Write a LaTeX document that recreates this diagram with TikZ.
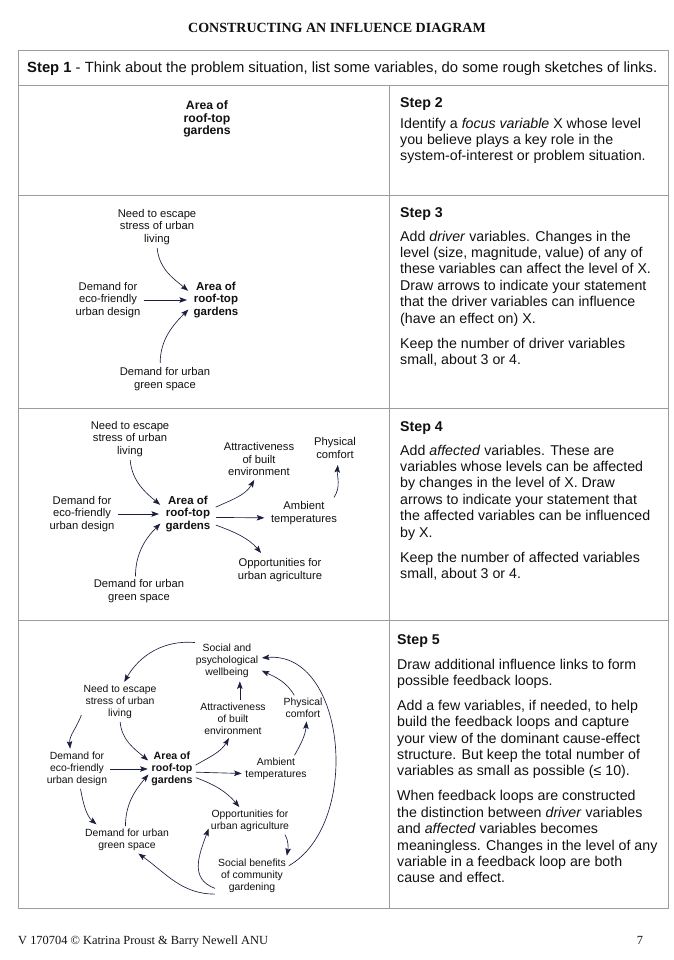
\documentclass[tikz,border=0pt]{standalone}
\usepackage{fontspec}
\setmainfont{Liberation Serif}
\newfontfamily\arial{Liberation Sans}
\usetikzlibrary{arrows.meta}

\definecolor{ink}{HTML}{111111}
\definecolor{linkblue}{HTML}{1A1F40}
\definecolor{rulegray}{HTML}{9C9C9C}

\begin{document}
\begin{tikzpicture}[x=1pt,y=1pt,
    var/.style={font=\arial\fontsize{11.2}{12.5}\selectfont, align=center, inner sep=1.5pt, text=ink},
    varsm/.style={font=\arial\fontsize{10.4}{11.8}\selectfont, align=center, inner sep=1.5pt, text=ink},
    focus/.style={var, font=\arial\bfseries\fontsize{11.5}{12.5}\selectfont},
    focussm/.style={varsm, font=\arial\bfseries\fontsize{10.6}{11.8}\selectfont},
    link/.style={draw=linkblue, line width=0.65pt, -{Stealth[length=7.5pt,width=5.5pt,inset=1.5pt]},
      shorten >=2pt, shorten <=1.5pt},
    steptext/.style={font=\arial\fontsize{14.2}{16.4}\selectfont, align=left, anchor=north west,
      inner sep=0pt, text=ink},
    rule/.style={draw=rulegray, line width=0.8pt}]
  \fill[white] (0,0) rectangle (673,-960);
  \useasboundingbox (0,0) rectangle (673,-960);

  % title, frame and footer
  \node[font=\bfseries\fontsize{14}{16}\selectfont, anchor=base, text=ink] (title) at (337,-32.5)
    {CONSTRUCTING AN INFLUENCE DIAGRAM};
  \draw[rule] (18,-50) rectangle (668,-908);
  \foreach \y in {85,195,408,620} {
    \draw[rule] (18,-\y) -- (668,-\y);
  }
  \draw[rule] (389,-85) -- (389,-908);
  \node[font=\fontsize{12.4}{14}\selectfont, anchor=base west, inner sep=0pt, text=ink] (credit) at (18,-944.5)
    {V 170704 © Katrina Proust \& Barry Newell ANU};
  \node[font=\fontsize{12.4}{14}\selectfont, anchor=base, inner sep=0pt, text=ink] (page) at (640,-944.5) {7};

  % step texts
  \node[font=\arial\fontsize{14.8}{16.4}\selectfont, anchor=base west, inner sep=0pt, text=ink] (step1) at (27,-73)
    {\textbf{Step 1} - Think about the problem situation, list some variables, do some rough sketches of links.};
  \node[steptext] (step2) at (400,-97) {\textbf{Step 2}\\[4.5pt]
    Identify a \textit{focus variable} X whose level\\
    you believe plays a key role in the\\
    system-of-interest or problem situation.};
  \node[steptext] (step3) at (400,-207) {\textbf{Step 3}\\[7.6pt]
    Add \textit{driver} variables. Changes in the\\
    level (size, magnitude, value) of any of\\
    these variables can affect the level of X.\\
    Draw arrows to indicate your statement\\
    that the driver variables can influence\\
    (have an effect on) X.\\[8.5pt]
    Keep the number of driver variables\\
    small, about 3 or 4.};
  \node[steptext] (step4) at (400,-421) {\textbf{Step 4}\\[7.6pt]
    Add \textit{affected} variables. These are\\
    variables whose levels can be affected\\
    by changes in the level of X. Draw\\
    arrows to indicate your statement that\\
    the affected variables can be influenced\\
    by X.\\[8.5pt]
    Keep the number of affected variables\\
    small, about 3 or 4.};
  \node[steptext] (step5) at (397,-634) {\textbf{Step 5}\\[8.5pt]
    Draw additional influence links to form\\
    possible feedback loops.\\[8.5pt]
    Add a few variables, if needed, to help\\
    build the feedback loops and capture\\
    your view of the dominant cause-effect\\
    structure. But keep the total number of\\
    variables as small as possible (≤ 10).\\[8.5pt]
    When feedback loops are constructed\\
    the distinction between \textit{driver} variables\\
    and \textit{affected} variables becomes\\
    meaningless. Changes in the level of any\\
    variable in a feedback loop are both\\
    cause and effect.};

  % step 2
  \node[focus, font=\arial\bfseries\fontsize{12.2}{12.2}\selectfont] (area2) at (207,-119) {Area of\\roof-top\\gardens};

  % step 3
  \node[var] (need3) at (157,-227) {Need to escape\\stress of urban\\living};
  \node[focus] (area3) at (216,-300) {Area of\\roof-top\\gardens};
  \node[var] (eco3) at (108,-300) {Demand for\\eco-friendly\\urban design};
  \node[var] (green3) at (165,-379) {Demand for urban\\green space};
  \draw[link, shorten >=5pt] (need3.south) to[out=-85,in=140] (area3.166);
  \draw[link, shorten >=5pt] (eco3.east) -- (area3.west);
  \draw[link, shorten >=5pt, shorten <=3pt] (green3.110) to[out=90,in=-135] (area3.194);

  % step 4
  \node[var] (need4) at (130,-439) {Need to escape\\stress of urban\\living};
  \node[focus] (area4) at (188,-514) {Area of\\roof-top\\gardens};
  \node[var] (eco4) at (82,-514) {Demand for\\eco-friendly\\urban design};
  \node[var] (green4) at (139,-591) {Demand for urban\\green space};
  \node[var] (attr4) at (259,-459) {Attractiveness\\of built\\environment};
  \node[var] (phys4) at (335,-448) {Physical\\comfort};
  \node[var] (amb4) at (304,-513) {Ambient\\temperatures};
  \node[var] (opp4) at (280,-570) {Opportunities for\\urban agriculture};
  \draw[link, shorten >=5pt] (need4.south) to[out=-85,in=140] (area4.166);
  \draw[link, shorten >=5pt] (eco4.east) -- (area4.west);
  \draw[link, shorten >=5pt] (green4.105) to[out=90,in=-135] (area4.194);
  \draw[link, shorten <=4pt, shorten >=3pt] (area4.12) to[out=25,in=-120] (attr4.-100);
  \draw[link, shorten <=4pt, shorten >=5pt] (area4.-8) -- (amb4.188);
  \draw[link, shorten <=4pt, shorten >=5pt] (area4.-22) to[out=-20,in=130] (opp4.140);
  \draw[link, shorten <=3pt, shorten >=5pt] (amb4.25) to[out=55,in=-95] (phys4.-75);

  % step 5
  \node[varsm] (social5) at (227,-661) {Social and\\psychological\\wellbeing};
  \node[varsm] (need5) at (120,-702) {Need to escape\\stress of urban\\living};
  \node[varsm] (attr5) at (233,-719) {Attractiveness\\of built\\environment};
  \node[varsm] (phys5) at (303,-708) {Physical\\comfort};
  \node[varsm] (eco5) at (77,-769) {Demand for\\eco-friendly\\urban design};
  \node[focussm] (area5) at (172,-769) {Area of\\roof-top\\gardens};
  \node[varsm] (amb5) at (276,-769) {Ambient\\temperatures};
  \node[varsm] (opp5) at (250,-821) {Opportunities for\\urban agriculture};
  \node[varsm] (green5) at (127,-840) {Demand for urban\\green space};
  \node[varsm] (benef5) at (252,-876) {Social benefits\\of community\\gardening};
  \draw[link] (social5.149) to[out=175,in=60] (need5.80);
  \draw[link] (need5.197) to[out=-110,in=95] (eco5.110);
  \draw[link] (need5.south) to[out=-85,in=140] (area5.162);
  \draw[link] (eco5.east) -- (area5.west);
  \draw[link] (green5.97) to[out=90,in=-130] (area5.190);
  \draw[link, shorten >=5pt] (eco5.-80) to[out=-80,in=140] (green5.155);
  \draw[link] (area5.8) to[out=30,in=-120] (attr5.-100);
  \draw[link] (area5.-8) -- (amb5.188);
  \draw[link] (area5.-20) to[out=-20,in=130] (opp5.127);
  \draw[link] (attr5.north -| social5.-55) -- (social5.-55);
  \draw[link] (phys5.125) to[out=120,in=-25] (social5.-15);
  \draw[link] (amb5.35) to[out=60,in=-95] (phys5.-72);
  \draw[link] (opp5.-20) to[out=-60,in=80] (benef5.28);
  \draw[link] (benef5.200) to[out=160,in=-110,looseness=1.2] (opp5.188);
  \draw[link] (benef5.15) to[out=30,in=5,looseness=1.05] (social5.5);
  \draw[link] (benef5.207) to[out=180,in=-35] (green5.-52);
\end{tikzpicture}
\end{document}
